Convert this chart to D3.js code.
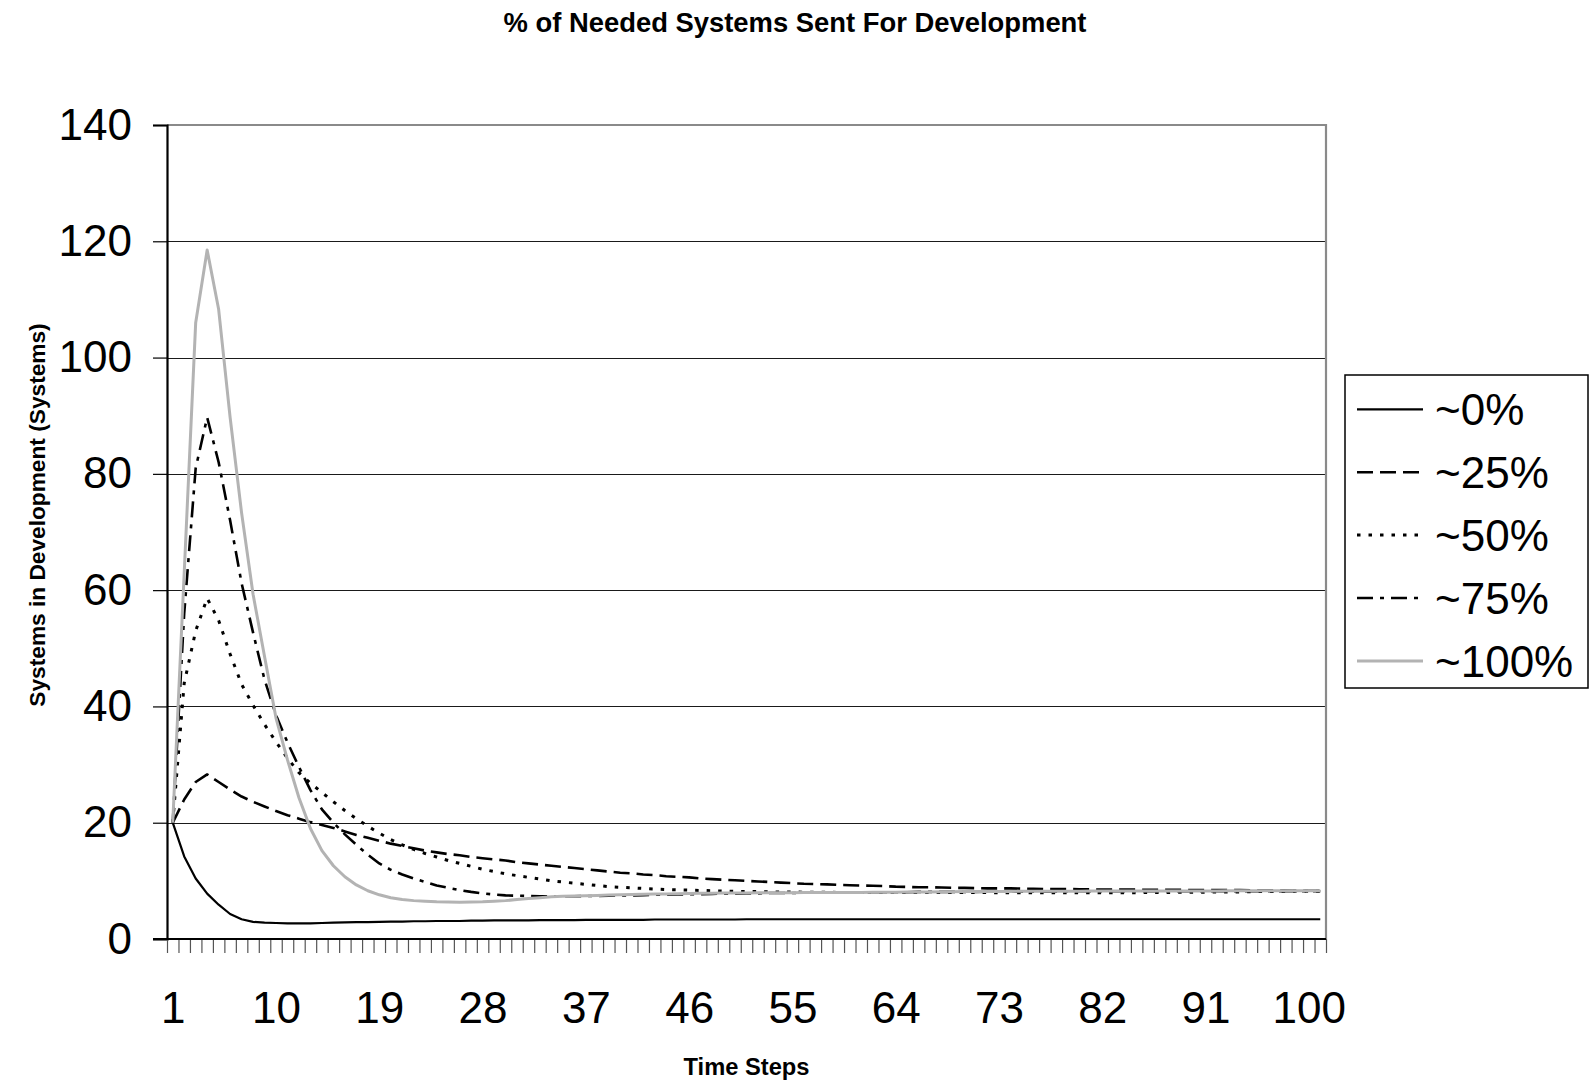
<!DOCTYPE html>
<html>
<head>
<meta charset="utf-8">
<script src="https://cdn.jsdelivr.net/npm/d3@7"></script>
<style>
  html, body { margin: 0; padding: 0; background: #fff; }
  svg { display: block; font-family: "Liberation Sans", Arial, Helvetica, sans-serif; }
</style>
</head>
<body>
<svg id="chart" width="1590" height="1082"></svg>
<script>
// Time steps 1..101 (category axis)
const timeSteps = d3.range(1, 102);
const xTickLabels = ["1", "10", "19", "28", "37", "46", "55", "64", "73", "82", "91", "100"];
const yTickValues = [0, 20, 40, 60, 80, 100, 120, 140];

const seriesNames = ["~0%", "~25%", "~50%", "~75%", "~100%"];

// Systems in development per time step, for each share of needed systems sent
const pct0 = [
  20, 14.2, 10.4, 7.8, 5.9, 4.3, 3.4, 2.95, 2.8, 2.75,
  2.7, 2.7, 2.7, 2.75, 2.8, 2.85, 2.9, 2.9, 2.95, 3.0,
  3.0, 3.05, 3.05, 3.1, 3.1, 3.1, 3.15, 3.15, 3.2, 3.2,
  3.2, 3.2, 3.25, 3.25, 3.25, 3.25, 3.3, 3.3, 3.3, 3.3,
  3.3, 3.3, 3.35, 3.35, 3.35, 3.35, 3.35, 3.35, 3.35, 3.35,
  3.4, 3.4, 3.4, 3.4, 3.4, 3.4, 3.4, 3.4, 3.4, 3.4,
  3.4, 3.4, 3.4, 3.4, 3.4, 3.4, 3.4, 3.4, 3.4, 3.4,
  3.4, 3.4, 3.4, 3.4, 3.4, 3.4, 3.4, 3.4, 3.4, 3.4,
  3.4, 3.4, 3.4, 3.4, 3.4, 3.4, 3.4, 3.4, 3.4, 3.4,
  3.4, 3.4, 3.4, 3.4, 3.4, 3.4, 3.4, 3.4, 3.4, 3.4, 3.4
];
const pct25 = [
  20, 24, 27, 28.3, 27.0, 25.7, 24.5, 23.6, 22.8, 22.0,
  21.3, 20.7, 20.1, 19.6, 19.1, 18.5, 17.9, 17.4, 16.9, 16.4,
  16.0, 15.6, 15.2, 14.9, 14.6, 14.4, 14.1, 13.9, 13.7, 13.5,
  13.2, 13.0, 12.8, 12.6, 12.4, 12.2, 12.0, 11.8, 11.6, 11.4,
  11.3, 11.1, 11.0, 10.8, 10.7, 10.6, 10.4, 10.3, 10.2, 10.1,
  10.0, 9.9, 9.8, 9.7, 9.6, 9.5, 9.45, 9.4, 9.3, 9.25,
  9.2, 9.15, 9.1, 9.0, 8.95, 8.9, 8.9, 8.85, 8.8, 8.8,
  8.75, 8.7, 8.7, 8.7, 8.65, 8.65, 8.6, 8.6, 8.6, 8.55,
  8.55, 8.5, 8.5, 8.5, 8.5, 8.45, 8.45, 8.45, 8.45, 8.4,
  8.4, 8.4, 8.4, 8.4, 8.35, 8.35, 8.35, 8.35, 8.3, 8.3, 8.3
];
const pct50 = [
  20, 44, 53, 58.6, 54.8, 49, 43.8, 40.2, 36.9, 33.9,
  31.1, 28.6, 26.8, 25.2, 23.6, 22.1, 20.7, 19.4, 18.2, 17.1,
  16.2, 15.4, 14.7, 14.1, 13.5, 13.0, 12.5, 12.0, 11.6, 11.2,
  10.9, 10.6, 10.3, 10.0, 9.8, 9.6, 9.4, 9.2, 9.0, 8.9,
  8.8, 8.7, 8.6, 8.5, 8.45, 8.4, 8.35, 8.3, 8.25, 8.2,
  8.15, 8.15, 8.1, 8.1, 8.1, 8.05, 8.05, 8.05, 8.0, 8.0,
  8.0, 8.0, 8.0, 8.0, 8.0, 8.0, 8.0, 8.0, 8.0, 8.0,
  8.0, 8.0, 7.95, 7.95, 7.95, 7.95, 7.95, 7.95, 7.95, 7.95,
  7.95, 7.95, 7.95, 7.95, 7.95, 8.0, 8.0, 8.0, 8.05, 8.05,
  8.05, 8.1, 8.1, 8.1, 8.15, 8.15, 8.15, 8.2, 8.2, 8.2, 8.2
];
const pct75 = [
  20, 56, 81, 89.7, 82, 72, 61.2, 52.7, 44.6, 38.5,
  33.8, 29.6, 25.6, 22.3, 20.0, 18.0, 16.2, 14.5, 13.0, 11.9,
  11.1, 10.4, 9.8, 9.2, 8.8, 8.4, 8.1, 7.85, 7.65, 7.5,
  7.45, 7.4, 7.35, 7.35, 7.35, 7.35, 7.4, 7.4, 7.45, 7.5,
  7.5, 7.55, 7.6, 7.6, 7.65, 7.7, 7.7, 7.75, 7.8, 7.8,
  7.85, 7.85, 7.9, 7.9, 7.9, 7.95, 7.95, 8.0, 8.0, 8.0,
  8.0, 8.05, 8.05, 8.05, 8.05, 8.1, 8.1, 8.1, 8.1, 8.1,
  8.1, 8.15, 8.15, 8.15, 8.15, 8.15, 8.15, 8.15, 8.2, 8.2,
  8.2, 8.2, 8.2, 8.2, 8.2, 8.2, 8.2, 8.2, 8.2, 8.2,
  8.2, 8.2, 8.2, 8.2, 8.2, 8.2, 8.2, 8.2, 8.2, 8.2, 8.2
];
const pct100 = [
  20, 63, 106, 118.5, 108.3, 89.7, 73.3, 59.3, 48.6, 38,
  30.8, 24.3, 19, 15.2, 12.6, 10.7, 9.3, 8.3, 7.6, 7.1,
  6.8, 6.6, 6.5, 6.4, 6.35, 6.3, 6.35, 6.4, 6.5, 6.6,
  6.8, 6.95, 7.1, 7.25, 7.35, 7.4, 7.45, 7.5, 7.55, 7.6,
  7.65, 7.7, 7.72, 7.75, 7.8, 7.82, 7.85, 7.88, 7.9, 7.92,
  7.93, 7.94, 7.95, 7.96, 7.97, 7.98, 7.99, 8.0, 8.0, 8.0,
  8.0, 8.02, 8.04, 8.06, 8.08, 8.1, 8.1, 8.12, 8.14, 8.15,
  8.16, 8.17, 8.18, 8.19, 8.2, 8.2, 8.2, 8.21, 8.22, 8.23,
  8.24, 8.25, 8.25, 8.25, 8.25, 8.25, 8.25, 8.25, 8.25, 8.25,
  8.26, 8.27, 8.28, 8.29, 8.3, 8.3, 8.3, 8.3, 8.3, 8.3, 8.3
];

const seriesValues = [pct0, pct25, pct50, pct75, pct100];
const seriesStyles = [
  { color: "#000", width: 2.2, dash: null },
  { color: "#000", width: 2.6, dash: "16,7" },
  { color: "#000", width: 3, dash: "3.5,8" },
  { color: "#000", width: 2.6, dash: "16,7,4,7" },
  { color: "#b3b3b3", width: 3, dash: null }
];

const svg = d3.select("#chart");
const plot = { left: 167, right: 1326, top: 125, bottom: 939 };

const x = d3.scaleLinear().domain([0.5, timeSteps.length + 0.5]).range([plot.left, plot.right]);
const y = d3.scaleLinear().domain([0, 140]).range([plot.bottom, plot.top]);

// Title
svg.append("text")
  .attr("x", 795).attr("y", 32)
  .attr("text-anchor", "middle")
  .attr("font-size", 27.4).attr("font-weight", "bold")
  .text("% of Needed Systems Sent For Development");

// Horizontal gridlines
svg.append("g")
  .selectAll("line")
  .data(yTickValues.filter(v => v > 0 && v < 140))
  .join("line")
  .attr("x1", plot.left).attr("x2", plot.right)
  .attr("y1", d => Math.round(y(d)) + 0.5).attr("y2", d => Math.round(y(d)) + 0.5)
  .attr("stroke", "#1a1a1a").attr("stroke-width", 1.2);

// Plot frame (top and right)
svg.append("path")
  .attr("d", `M${plot.left},${plot.top} H${plot.right} V${plot.bottom}`)
  .attr("fill", "none").attr("stroke", "#8a8a8a").attr("stroke-width", 2.2);

// Y axis
const yAxis = d3.axisLeft(y).tickValues(yTickValues).tickSize(14).tickPadding(21).tickFormat(d3.format("d"));
const gy = svg.append("g").attr("transform", `translate(${plot.left},0)`).call(yAxis);
gy.select(".domain").attr("stroke", "#000").attr("stroke-width", 2.2);
gy.selectAll(".tick line").attr("stroke", "#000").attr("stroke-width", 1.2);
gy.selectAll(".tick text").attr("font-size", 44).attr("fill", "#000").attr("font-family", null);

// X axis ticks on category boundaries
const boundaries = d3.range(0, timeSteps.length + 1).map(i => i + 0.5);
const xTicks = d3.axisBottom(x).tickValues(boundaries).tickSize(14).tickFormat("");
const gx = svg.append("g").attr("transform", `translate(0,${plot.bottom})`).call(xTicks);
gx.select(".domain").remove();
gx.selectAll(".tick line").attr("stroke", "#555").attr("stroke-width", 1.2);

// X axis labels every 9th step
const xLabels = d3.axisBottom(x).tickValues(xTickLabels.map(Number)).tickSize(0).tickPadding(53)
  .tickFormat((d, i) => xTickLabels[i]);
const gxl = svg.append("g").attr("transform", `translate(0,${plot.bottom})`).call(xLabels);
gxl.select(".domain").remove();
gxl.selectAll(".tick text").attr("font-size", 44).attr("fill", "#000").attr("font-family", null);

// X axis line (extends to the left tick)
svg.append("line")
  .attr("x1", plot.left - 14).attr("x2", plot.right)
  .attr("y1", plot.bottom).attr("y2", plot.bottom)
  .attr("stroke", "#000").attr("stroke-width", 2.2);

// Axis titles
svg.append("text")
  .attr("x", (plot.left + plot.right) / 2).attr("y", 1075)
  .attr("text-anchor", "middle")
  .attr("font-size", 23.7).attr("font-weight", "bold")
  .text("Time Steps");

svg.append("text")
  .attr("transform", "translate(45,515) rotate(-90)")
  .attr("text-anchor", "middle")
  .attr("font-size", 22.7).attr("font-weight", "bold")
  .text("Systems in Development (Systems)");

// Series lines
const line = d3.line().x((d, i) => x(timeSteps[i])).y(d => y(d));
svg.append("g")
  .selectAll("path")
  .data(seriesValues)
  .join("path")
  .attr("d", d => line(d))
  .attr("fill", "none")
  .attr("stroke", (d, i) => seriesStyles[i].color)
  .attr("stroke-width", (d, i) => seriesStyles[i].width)
  .attr("stroke-dasharray", (d, i) => seriesStyles[i].dash)
  .attr("stroke-linejoin", "round");

// Legend
const legend = svg.append("g");
legend.append("rect")
  .attr("x", 1345).attr("y", 375).attr("width", 243).attr("height", 313)
  .attr("fill", "#fff").attr("stroke", "#000").attr("stroke-width", 1.5);
const rows = legend.selectAll("g.row")
  .data(seriesNames)
  .join("g")
  .attr("class", "row")
  .attr("transform", (d, i) => `translate(0,${409.3 + i * 62.9})`);
rows.append("line")
  .attr("x1", 1357).attr("x2", 1423)
  .attr("stroke", (d, i) => seriesStyles[i].color)
  .attr("stroke-width", (d, i) => seriesStyles[i].width)
  .attr("stroke-dasharray", (d, i) => seriesStyles[i].dash);
rows.append("text")
  .attr("x", 1435).attr("y", 0).attr("dy", "0.36em")
  .attr("font-size", 44)
  .text(d => d);
</script>
</body>
</html>
